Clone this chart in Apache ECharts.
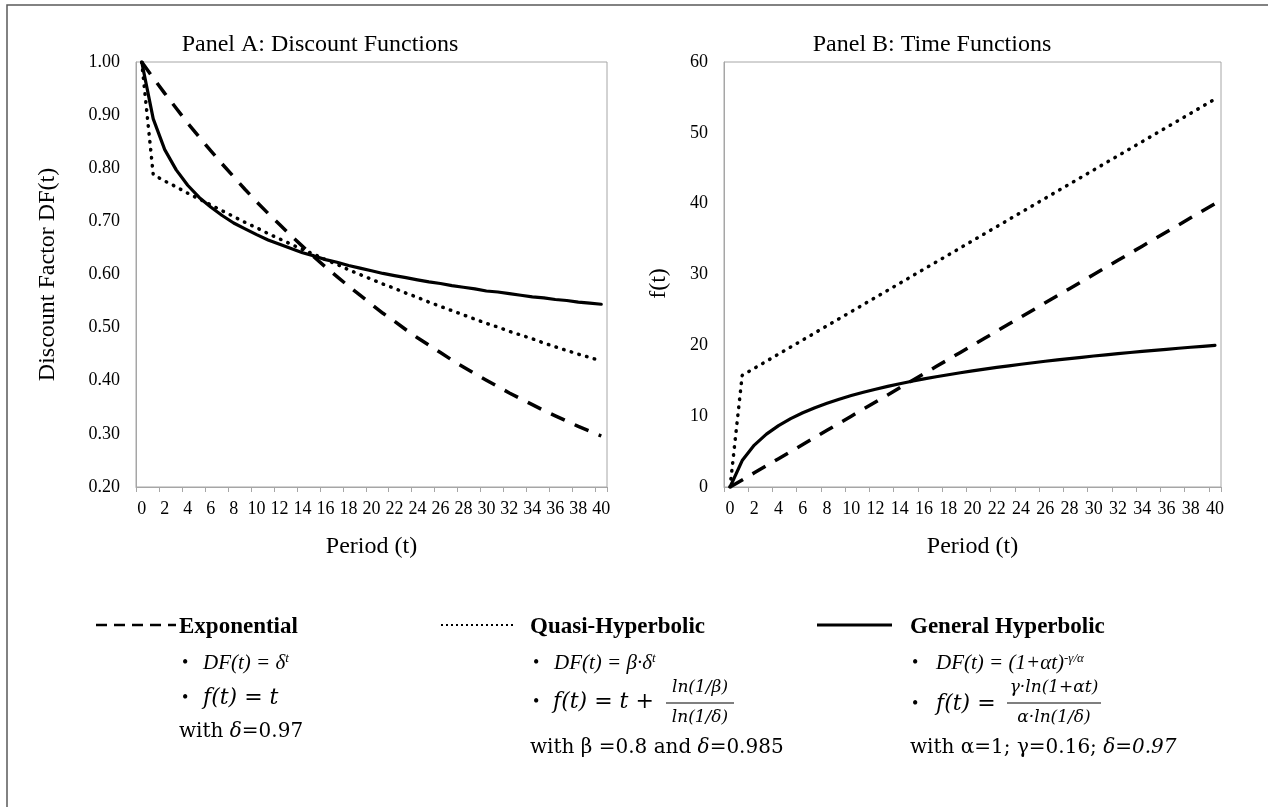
<!DOCTYPE html>
<html>
<head>
<meta charset="utf-8">
<script src="https://cdn.jsdelivr.net/npm/echarts@6/dist/echarts.min.js"></script>
<style>
html,body{margin:0;padding:0;background:#fff;}
#chart{width:1268px;height:807px;}
</style>
</head>
<body>
<div id="chart"></div>
<script>
// ---- data ----
var periods = ['0','1','2','3','4','5','6','7','8','9','10','11','12','13','14','15','16','17','18','19','20',
               '21','22','23','24','25','26','27','28','29','30','31','32','33','34','35','36','37','38','39','40'];

// Panel A: discount factors DF(t)
var dfExponential = [1.000,0.970,0.941,0.913,0.885,0.859,0.833,0.808,0.784,0.760,0.737,0.715,0.694,0.673,0.653,0.633,0.614,0.596,0.578,0.561,0.544,
                     0.527,0.512,0.496,0.481,0.467,0.453,0.439,0.426,0.413,0.401,0.389,0.377,0.366,0.355,0.344,0.334,0.324,0.314,0.305,0.296];
var dfQuasi = [1.000,0.788,0.776,0.765,0.753,0.742,0.731,0.720,0.709,0.698,0.688,0.677,0.667,0.657,0.647,0.638,0.628,0.619,0.609,0.600,0.591,
               0.582,0.574,0.565,0.557,0.548,0.540,0.532,0.524,0.516,0.508,0.501,0.493,0.486,0.479,0.471,0.464,0.457,0.450,0.444,0.437];
var dfGeneral = [1.000,0.893,0.835,0.797,0.768,0.745,0.727,0.711,0.697,0.686,0.675,0.665,0.657,0.649,0.641,0.635,0.628,0.623,0.617,0.612,0.607,
                 0.602,0.598,0.594,0.590,0.586,0.583,0.579,0.576,0.573,0.569,0.567,0.564,0.561,0.558,0.556,0.553,0.551,0.548,0.546,0.544];

// Panel B: time functions f(t)
var fExponential = [0,1,2,3,4,5,6,7,8,9,10,11,12,13,14,15,16,17,18,19,20,
                    21,22,23,24,25,26,27,28,29,30,31,32,33,34,35,36,37,38,39,40];
var fQuasi = [0,15.76,16.76,17.76,18.76,19.76,20.76,21.76,22.76,23.76,24.76,25.76,26.76,27.76,28.76,29.76,30.76,31.76,32.76,33.76,34.76,
              35.76,36.76,37.76,38.76,39.76,40.76,41.76,42.76,43.76,44.76,45.76,46.76,47.76,48.76,49.76,50.76,51.76,52.76,53.76,54.76];
var fGeneral = [0,3.73,5.92,7.46,8.67,9.65,10.48,11.20,11.83,12.40,12.91,13.38,13.81,14.21,14.58,14.93,15.26,15.56,15.85,16.13,16.39,
                16.64,16.88,17.11,17.33,17.54,17.75,17.94,18.13,18.31,18.49,18.66,18.83,18.99,19.14,19.29,19.44,19.59,19.73,19.86,20.00];

var yTicksA = {min:0.2, max:1.0, interval:0.1};
var yTicksB = {min:0, max:60, interval:10};

var panelTitles = ['Panel A: Discount Functions', 'Panel B: Time Functions'];
var xAxisName = 'Period (t)';
var yAxisNames = ['Discount Factor DF(t)', 'f(t)'];
var seriesNames = ['Exponential', 'Quasi-Hyperbolic', 'General Hyperbolic'];

// ---- styles ----
var SERIF = "'Liberation Serif','Times New Roman',serif";
var BODY = "'DejaVu Serif',serif";
var GRAY = '#a6a6a6';
var dashedStyle = {color:'#000', width:3.5, type:[15,11], cap:'butt'};
var dottedStyle = {color:'#000', width:3.5, type:[0.5,7.5], cap:'round'};
var solidStyle  = {color:'#000', width:3.2, type:'solid', cap:'round', join:'round'};

function xAxisCfg(gi){
  return {
    type:'category', gridIndex:gi, data:periods, boundaryGap:true,
    axisLine:{show:true, lineStyle:{color:GRAY, width:1}},
    axisTick:{show:true, interval:1, length:5, lineStyle:{color:GRAY}},
    axisLabel:{interval:1, margin:13, color:'#000', fontFamily:SERIF, fontSize:18},
    splitLine:{show:false},
    name:xAxisName, nameLocation:'middle', nameGap:48,
    nameTextStyle:{color:'#000', fontFamily:SERIF, fontSize:24}
  };
}
function yAxisCfg(gi, ticks, name, gap, fmt, pad){
  return {
    type:'value', gridIndex:gi, min:ticks.min, max:ticks.max, interval:ticks.interval,
    axisLine:{show:true, lineStyle:{color:GRAY, width:1}},
    axisTick:{show:false},
    splitLine:{show:false},
    axisLabel:{margin:16, color:'#000', fontFamily:SERIF, fontSize:18, formatter:fmt},
    name:name, nameLocation:'middle', nameGap:gap, nameRotate:90,
    nameTextStyle:{color:'#000', fontFamily:SERIF, fontSize:24, padding:pad}
  };
}
function lineSeries(name, gi, data, style, z){
  return {
    name:name, type:'line', xAxisIndex:gi, yAxisIndex:gi, data:data,
    symbol:'none', showSymbol:false, smooth:false, lineStyle:style, z:z,
    emphasis:{disabled:true}, silent:true
  };
}

function txt(x, y, text, font, opts){
  var st = Object.assign({text:text, fill:'#000', align:'left', verticalAlign:'middle'}, font);
  if (opts) Object.assign(st, opts);
  return {type:'text', x:x, y:y, silent:true, style:st};
}
var fHead = {fontFamily:SERIF, fontSize:23, fontWeight:'bold'};
var fBullet = {fontFamily:SERIF, fontSize:18};
var fMath = {fontFamily:BODY, fontSize:22, fontStyle:'italic'};
var fFrac = {fontFamily:BODY, fontSize:17, fontStyle:'italic'};
var richDF = {
  i:{fontFamily:SERIF, fontSize:21, fontStyle:'italic', verticalAlign:'bottom'},
  s:{fontFamily:SERIF, fontSize:13, fontStyle:'italic', verticalAlign:'top'}
};
var richWith = {
  n:{fontFamily:BODY, fontSize:20},
  i:{fontFamily:BODY, fontSize:20, fontStyle:'italic'}
};

var graphics = [
  // outer frame (top + left edges)
  {type:'polyline', silent:true, shape:{points:[[7,807],[7,5],[1268,5]]}, style:{stroke:'#5a5a5a', lineWidth:1.5, fill:null}},
  // panel titles
  txt(320, 45, panelTitles[0], {fontFamily:SERIF, fontSize:24}, {align:'center'}),
  txt(932, 45, panelTitles[1], {fontFamily:SERIF, fontSize:24}, {align:'center'}),

  // legend column 1: Exponential
  {type:'line', silent:true, shape:{x1:96,y1:625,x2:176,y2:625}, style:{stroke:'#000', lineWidth:2.5, lineDash:[11,7]}},
  txt(179, 627, seriesNames[0], fHead),
  txt(182, 663, '•', fBullet),
  txt(203, 663, '{i|DF(t) = δ}{s|t}', {}, {rich:richDF}),
  txt(182, 698, '•', fBullet),
  txt(203, 698, 'f(t) = t', fMath),
  txt(179, 732, '{n|with }{i|δ}{n|=0.97}', {}, {rich:richWith}),

  // legend column 2: Quasi-Hyperbolic
  {type:'line', silent:true, shape:{x1:441,y1:625,x2:513,y2:625}, style:{stroke:'#000', lineWidth:2, lineDash:[2,3]}},
  txt(530, 627, seriesNames[1], fHead),
  txt(533, 663, '•', fBullet),
  txt(554, 663, '{i|DF(t) = β·δ}{s|t}', {}, {rich:richDF}),
  txt(533, 702, '•', fBullet),
  txt(553, 702, 'f(t) = t +', fMath),
  txt(700, 688, 'ln(1/β)', fFrac, {align:'center'}),
  {type:'line', silent:true, shape:{x1:666,y1:703,x2:734,y2:703}, style:{stroke:'#000', lineWidth:1.2}},
  txt(700, 718, 'ln(1/δ)', fFrac, {align:'center'}),
  txt(530, 748, '{n|with β =0.8 and }{i|δ}{n|=0.985}', {}, {rich:richWith}),

  // legend column 3: General Hyperbolic
  {type:'line', silent:true, shape:{x1:817,y1:625,x2:892,y2:625}, style:{stroke:'#000', lineWidth:3}},
  txt(910, 627, seriesNames[2], fHead),
  txt(912, 663, '•', fBullet),
  txt(936, 663, '{i|DF(t) = (1+αt)}{s|-γ/α}', {}, {rich:richDF}),
  txt(912, 704, '•', fBullet),
  txt(936, 704, 'f(t) =', fMath),
  txt(1054, 688, 'γ·ln(1+αt)', fFrac, {align:'center'}),
  {type:'line', silent:true, shape:{x1:1007,y1:703,x2:1101,y2:703}, style:{stroke:'#000', lineWidth:1.2}},
  txt(1054, 718, 'α·ln(1/δ)', fFrac, {align:'center'}),
  txt(910, 748, '{n|with α=1; γ=0.16; }{i|δ=0.97}', {}, {rich:richWith})
];

var chart = echarts.init(document.getElementById('chart'), null, {renderer:'canvas'});
chart.setOption({
  animation:false,
  backgroundColor:'#fff',
  grid:[
    {left:136, top:62, width:471, height:425, show:true, borderColor:GRAY, borderWidth:1, backgroundColor:'transparent', containLabel:false},
    {left:724, top:62, width:497, height:425, show:true, borderColor:GRAY, borderWidth:1, backgroundColor:'transparent', containLabel:false}
  ],
  xAxis:[xAxisCfg(0), xAxisCfg(1)],
  yAxis:[
    yAxisCfg(0, yTicksA, yAxisNames[0], 76, function(v){return v.toFixed(2);}, [0,0,0,0]),
    yAxisCfg(1, yTicksB, yAxisNames[1], 53, function(v){return String(v);}, [0,18,0,0])
  ],
  series:[
    lineSeries(seriesNames[0], 0, dfExponential, dashedStyle, 3),
    lineSeries(seriesNames[1], 0, dfQuasi, dottedStyle, 2),
    lineSeries(seriesNames[2], 0, dfGeneral, solidStyle, 4),
    lineSeries(seriesNames[0], 1, fExponential, dashedStyle, 3),
    lineSeries(seriesNames[1], 1, fQuasi, dottedStyle, 2),
    lineSeries(seriesNames[2], 1, fGeneral, solidStyle, 4)
  ],
  graphic:graphics
});
</script>
</body>
</html>
